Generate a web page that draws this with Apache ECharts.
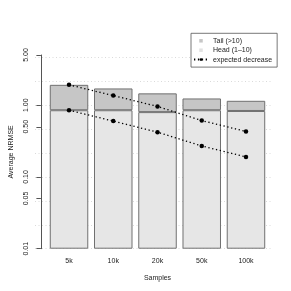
<!DOCTYPE html>
<html>
<head>
<meta charset="utf-8">
<script src="https://cdn.jsdelivr.net/npm/echarts@6/dist/echarts.min.js"></script>
<style>
html,body{margin:0;padding:0;background:#fff;}
#c{width:291px;height:291px;}
</style>
</head>
<body>
<div id="c"></div>
<script>
const categories = ['5k', '10k', '20k', '50k', '100k'];
const headValues = [0.85, 0.85, 0.80, 0.85, 0.83];
const tailValues = [1.07, 0.86, 0.66, 0.39, 0.32];
const expectedTotal = [1.92, 1.36, 0.96, 0.61, 0.43];
const expectedHead = [0.85, 0.60, 0.42, 0.27, 0.19];
const yTickValues = [0.01, 0.05, 0.1, 0.5, 1, 5];
const yTickLabels = ['0.01', '0.05', '0.10', '0.50', '1.00', '5.00'];
const yMinValue = 0.01;
const yMaxValue = 5;

const L = v => Math.log10(v) - Math.log10(yMinValue);
const FONT = 'Liberation Sans';
const TXT = '#222';

const headData = headValues.map(v => L(v));
const tailData = headValues.map((h, i) => L(h + tailValues[i]) - L(h));
const tickPos = yTickValues.map(L);

const chart = echarts.init(document.getElementById('c'), null, {renderer: 'canvas'});
chart.setOption({
  animation: false,
  backgroundColor: '#fff',
  textStyle: {fontFamily: FONT, color: TXT},
  grid: [
    {left: 39.1, right: 22.9, top: 55, bottom: 42.3},
    {left: 35, right: 18, top: 57.3, bottom: 42.3}
  ],
  legend: {
    left: 191, top: 33.3,
    orient: 'vertical',
    padding: [3, 5, 3, 2],
    itemWidth: 14, itemHeight: 3.5, itemGap: 0.4,
    borderColor: '#555', borderWidth: 0.8,
    backgroundColor: '#fff',
    textStyle: {fontFamily: FONT, fontSize: 7, color: TXT, lineHeight: 9},
    data: [
      {name: 'Tail (>10)', icon: 'path://M0,0h10v10h-10z', itemStyle: {borderWidth: 0, color: '#c6c6c6'}},
      {name: 'Head (1\u201310)', icon: 'path://M0,0h10v10h-10z', itemStyle: {borderWidth: 0, color: '#e2e2e2'}},
      {name: 'expected decrease'}
    ]
  },
  xAxis: [
    {
      type: 'category', gridIndex: 0, data: categories,
      axisLine: {show: false}, axisTick: {show: false},
      axisLabel: {fontSize: 7, color: TXT, margin: 9, fontFamily: FONT},
      name: 'Samples', nameLocation: 'middle', nameGap: 29,
      nameTextStyle: {fontSize: 7, color: TXT, fontFamily: FONT, verticalAlign: 'middle'}
    },
    {type: 'value', gridIndex: 1, show: false, min: 0, max: 1}
  ],
  yAxis: [
    {
      type: 'value', gridIndex: 0, min: 0, max: L(yMaxValue), offset: 6,
      axisLine: {show: true, lineStyle: {color: '#555', width: 1}},
      axisTick: {show: true, length: 4.5, customValues: tickPos, lineStyle: {color: '#555', width: 1}},
      axisLabel: {
        customValues: tickPos, rotate: 90, fontSize: 7, color: TXT, margin: 11, fontFamily: FONT,
        formatter: function (v) {
          let best = 0;
          tickPos.forEach((p, i) => { if (Math.abs(p - v) < Math.abs(tickPos[best] - v)) best = i; });
          return yTickLabels[best];
        }
      },
      splitLine: {show: false},
      name: 'Average NRMSE', nameLocation: 'middle', nameRotate: 90, nameGap: 29,
      nameTextStyle: {fontSize: 7, color: TXT, fontFamily: FONT, verticalAlign: 'middle'}
    },
    {
      type: 'value', gridIndex: 1, min: 0, max: 8 / 3, interval: 1 / 3,
      axisLine: {show: false}, axisTick: {show: false}, axisLabel: {show: false},
      splitLine: {show: true, lineStyle: {color: '#d0d0d0', width: 0.8, type: [1, 2.5]}}
    }
  ],
  series: [
    {
      name: 'Head (1\u201310)', type: 'bar', stack: 'err', xAxisIndex: 0, yAxisIndex: 0,
      barWidth: 38.5, data: headData,
      itemStyle: {color: '#e6e6e6', borderColor: '#707070', borderWidth: 1}
    },
    {
      name: 'Tail (>10)', type: 'bar', stack: 'err', xAxisIndex: 0, yAxisIndex: 0,
      barWidth: 38.5, data: tailData,
      itemStyle: {color: '#c6c6c6', borderColor: '#707070', borderWidth: 1}
    },
    {
      name: 'expected decrease', type: 'line', xAxisIndex: 0, yAxisIndex: 0,
      data: expectedTotal.map(L), symbol: 'circle', symbolSize: 4.5, z: 5,
      itemStyle: {color: '#000'},
      lineStyle: {color: '#000', width: 1.3, type: [1.3, 2.6]}
    },
    {
      name: 'expected decrease', type: 'line', xAxisIndex: 0, yAxisIndex: 0,
      data: expectedHead.map(L), symbol: 'circle', symbolSize: 4.5, z: 5,
      itemStyle: {color: '#000'},
      lineStyle: {color: '#000', width: 1.3, type: [1.3, 2.6]}
    }
  ]
});
</script>
</body>
</html>
